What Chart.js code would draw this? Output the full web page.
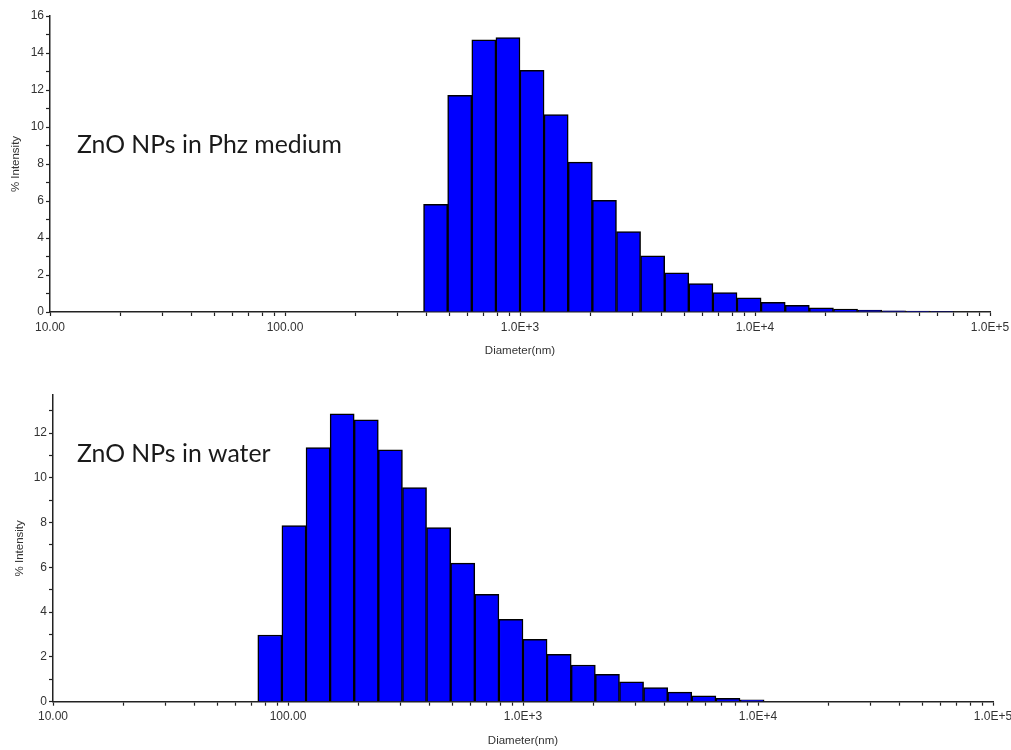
<!DOCTYPE html>
<html><head><meta charset="utf-8">
<script src="https://cdn.jsdelivr.net/npm/chart.js@4.4.1/dist/chart.umd.min.js"></script>
<style>
html,body{margin:0;padding:0;background:#fff;width:1011px;height:750px;overflow:hidden}
.panel{position:absolute;left:0;width:1011px;height:370px}
#p1{top:0}
#p2{top:380px}
</style></head><body>
<div class="panel" id="p1"><canvas id="c1"></canvas></div>
<div class="panel" id="p2"><canvas id="c2"></canvas></div>
<script>
// ---- data ----
// bin centre diameters (nm), log-spaced size classes
const phzDiameters = [437.4, 554.0, 701.8, 888.6, 1125, 1425, 1805, 2287, 2896, 3668, 4645, 5883, 7451, 9435, 11949, 15134, 19165, 24276, 30743, 38942, 49323, 62472];
const phzIntensity = [5.82, 11.71, 14.71, 14.83, 13.07, 10.67, 8.10, 6.03, 4.35, 3.04, 2.12, 1.53, 1.05, 0.77, 0.52, 0.36, 0.23, 0.16, 0.11, 0.07, 0.05, 0.03];
const waterDiameters = [83.7, 106.0, 134.3, 170.0, 215.3, 272.7, 345.4, 437.4, 554.0, 701.8, 888.6, 1125, 1425, 1805, 2287, 2896, 3668, 4645, 5883, 7451, 9435];
const waterIntensity = [2.98, 7.87, 11.35, 12.86, 12.59, 11.25, 9.57, 7.78, 6.19, 4.80, 3.68, 2.79, 2.12, 1.64, 1.22, 0.89, 0.63, 0.43, 0.26, 0.15, 0.08];
const xTickValues = [10,20,30,40,50,60,70,80,90,100,200,300,400,500,600,700,800,900,1000,2000,3000,4000,5000,6000,7000,8000,9000,10000,20000,30000,40000,50000,60000,70000,80000,90000,100000];
const xMajorTicks = [10, 100, 1000, 10000, 100000];
const xMajorLabels = ['10.00', '100.00', '1.0E+3', '1.0E+4', '1.0E+5'];
const yMaxima = [16, 13.7];
const panelLabels = ['ZnO NPs in Phz medium', 'ZnO NPs in water'];
const xTitle = 'Diameter(nm)';
const yTitle = '% Intensity';

const panelLabelPlugin = {
  id: 'panelLabel',
  afterDraw(chart, args, opts) {
    const ctx = chart.ctx;
    ctx.save();
    ctx.font = '100px ' + opts.family;
    const w = ctx.measureText(opts.refText).width;
    const size = 100 * opts.refWidth / w;
    ctx.font = size + 'px ' + opts.family;
    ctx.fillStyle = opts.color;
    ctx.textBaseline = 'alphabetic';
    ctx.fillText(opts.text, opts.x, opts.y);
    ctx.restore();
  }
};

const axisColor = '#222222';
const labelColor = '#333333';
const tickFont = {family: '"Liberation Sans", Arial, sans-serif', size: 12};
const titleFont = {family: '"Liberation Sans", Arial, sans-serif', size: 11.5};

function makeChart(canvasId, diameters, values, yMax, label, g) {
  return new Chart(document.getElementById(canvasId), {
    type: 'bar',
    data: {
      datasets: [{
        data: diameters.map((d, i) => ({x: d, y: values[i]})),
        backgroundColor: '#0000FF',
        borderColor: '#000000',
        borderWidth: 1.5,
        borderSkipped: 'start',
        barThickness: 'flex',
        barPercentage: 1,
        categoryPercentage: 1
      }]
    },
    options: {
      responsive: true,
      maintainAspectRatio: false,
      animation: false,
      layout: {padding: {left: 0, right: g.right, top: g.top, bottom: 0}},
      plugins: {
        legend: {display: false},
        tooltip: {enabled: false},
        panelLabel: {text: label, x: 77, y: g.labelY, family: 'Lato, sans-serif', color: '#1a1a1a', refText: panelLabels[0], refWidth: 265}
      },
      scales: {
        x: {
          type: 'logarithmic',
          min: 10, max: 100000,
          offset: false,
          grid: {display: true, offset: false, drawOnChartArea: false, drawTicks: true, tickLength: 4, tickColor: axisColor, tickWidth: 1.2},
          border: {display: true, color: axisColor, width: 1.5},
          afterBuildTicks: s => { s.ticks = xTickValues.map(v => ({value: v})); },
          afterFit: s => { s.height = g.xH; s.paddingLeft = 0; s.paddingRight = 0; },
          ticks: {
            autoSkip: false, maxRotation: 0, minRotation: 0, padding: 4,
            color: labelColor, font: tickFont,
            callback: v => { const k = xMajorTicks.indexOf(v); return k >= 0 ? xMajorLabels[k] : ''; }
          },
          title: {display: true, text: xTitle, color: labelColor, font: titleFont, padding: {top: 0, bottom: g.xTitlePad}}
        },
        y: {
          type: 'linear',
          min: 0, max: yMax,
          grid: {display: true, drawOnChartArea: false, drawTicks: true, tickLength: 4, tickColor: axisColor, tickWidth: 1.2},
          border: {display: true, color: axisColor, width: 1.5},
          afterFit: s => { s.width = g.yW; s.paddingTop = 0; s.paddingBottom = 0; },
          ticks: {
            stepSize: 1, includeBounds: false, padding: 2,
            color: labelColor, font: tickFont,
            callback: v => (v % 2 === 0 ? String(v) : '')
          },
          title: {display: true, text: yTitle, color: labelColor, font: titleFont, padding: {top: g.yTitlePad, bottom: 0}}
        }
      }
    },
    plugins: [panelLabelPlugin]
  });
}

makeChart('c1', phzDiameters, phzIntensity, yMaxima[0], panelLabels[0],
  {right: 21, top: 16, xH: 58, yW: 50, xTitlePad: 12, yTitlePad: 9, labelY: 153});
makeChart('c2', waterDiameters, waterIntensity, yMaxima[1], panelLabels[1],
  {right: 18, top: 15, xH: 48.3, yW: 53, xTitlePad: 2, yTitlePad: 12.5, labelY: 82});
</script>
</body></html>
